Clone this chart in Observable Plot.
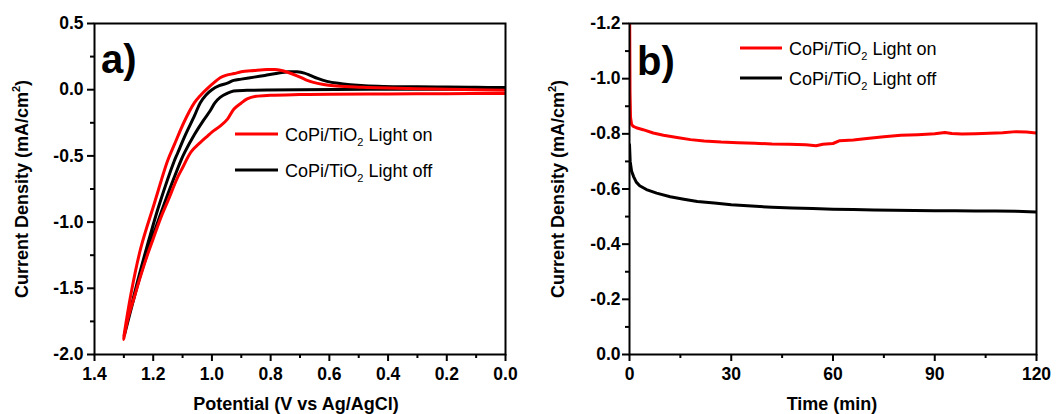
<!DOCTYPE html>
<html><head><meta charset="utf-8">
<script src="https://cdn.jsdelivr.net/npm/d3@7"></script>
<script src="https://cdn.jsdelivr.net/npm/@observablehq/plot@0.6"></script>
<style>
html,body{margin:0;padding:0;background:#fff;}
#chart{display:flex;width:1057px;height:414px;}
#chart svg{display:block;}
</style></head><body><div id="chart"></div>
<script>
// ---------- series ----------
const seriesLabels = ["CoPi/TiO", "CoPi/TiO"];
const seriesSub = ["2", "2"];
const seriesSuffix = [" Light on", " Light off"];
const seriesColors = ["#ff0000", "#000000"];

// ---------- panel a: cyclic voltammetry ----------
const cvOnPotential = [0.0, 0.2, 0.4, 0.6, 0.7, 0.8, 0.85, 0.88, 0.9, 0.925, 0.947, 0.97, 1.0, 1.015, 1.04, 1.071, 1.1, 1.117, 1.15, 1.174, 1.2, 1.219, 1.242, 1.265, 1.285, 1.301,
  1.276, 1.242, 1.197, 1.151, 1.128, 1.094, 1.06, 1.04, 1.015, 0.992, 0.972, 0.95, 0.924, 0.9, 0.856, 0.812, 0.788, 0.767, 0.74, 0.71, 0.68, 0.654, 0.62, 0.585, 0.53, 0.472, 0.4, 0.3, 0.2, 0.1, 0.0];
const cvOnCurrent = [-0.028, -0.03, -0.032, -0.034, -0.037, -0.042, -0.05, -0.07, -0.1, -0.146, -0.222, -0.272, -0.32, -0.35, -0.4, -0.47, -0.59, -0.663, -0.84, -0.966, -1.125, -1.243, -1.4, -1.571, -1.72, -1.886,
  -1.545, -1.193, -0.865, -0.537, -0.415, -0.24, -0.1, -0.045, 0.01, 0.055, 0.09, 0.11, 0.122, 0.135, 0.145, 0.153, 0.152, 0.147, 0.13, 0.105, 0.075, 0.055, 0.04, 0.03, 0.022, 0.017, 0.012, 0.007, 0.003, 0.0, -0.005];
const cvOffPotential = [0.0, 0.4, 0.7, 0.812, 0.88, 0.926, 0.95, 0.972, 0.99, 1.006, 1.03, 1.06, 1.092, 1.106, 1.135, 1.162, 1.2, 1.25, 1.299,
  1.25, 1.2, 1.179, 1.128, 1.117, 1.09, 1.06, 1.04, 1.02, 1.0, 0.975, 0.947, 0.926, 0.9, 0.856, 0.82, 0.776, 0.74, 0.71, 0.685, 0.665, 0.64, 0.608, 0.57, 0.529, 0.48, 0.416, 0.3, 0.2, 0.1, 0.0];
const cvOffCurrent = [0.005, 0.003, 0.0, -0.002, -0.005, -0.01, -0.03, -0.058, -0.1, -0.159, -0.235, -0.34, -0.47, -0.537, -0.7, -0.86, -1.1, -1.45, -1.86,
  -1.42, -1.02, -0.865, -0.537, -0.48, -0.34, -0.2, -0.1, -0.04, 0.0, 0.03, 0.05, 0.07, 0.08, 0.095, 0.108, 0.125, 0.135, 0.135, 0.125, 0.108, 0.085, 0.063, 0.048, 0.038, 0.03, 0.025, 0.022, 0.02, 0.018, 0.017];

// ---------- panel b: chronoamperometry ----------
const caOnTime = [0, 0.15, 0.3, 0.6, 1, 2, 4, 7, 10, 14, 18, 22, 27, 32, 37, 42, 47, 52, 55, 57, 60, 62, 66, 70, 75, 80, 85, 90, 93, 95, 98, 102, 106, 110, 114, 117, 120];
const caOnCurrent = [-1.35, -0.95, -0.86, -0.835, -0.828, -0.822, -0.815, -0.803, -0.795, -0.787, -0.779, -0.774, -0.77, -0.768, -0.766, -0.763, -0.762, -0.76, -0.757, -0.762, -0.765, -0.775, -0.778, -0.783, -0.789, -0.795, -0.797, -0.8, -0.805, -0.801, -0.799, -0.8, -0.802, -0.804, -0.808, -0.807, -0.803];
const caOffTime = [0, 0.2, 0.6, 1.2, 2, 3, 5, 8, 12, 16, 20, 25, 30, 36, 42, 48, 54, 60, 66, 72, 78, 84, 90, 96, 102, 108, 114, 120];
const caOffCurrent = [-0.76, -0.7, -0.665, -0.645, -0.625, -0.612, -0.598, -0.585, -0.572, -0.563, -0.555, -0.549, -0.543, -0.538, -0.534, -0.531, -0.529, -0.527, -0.526, -0.524, -0.523, -0.522, -0.521, -0.521, -0.52, -0.52, -0.519, -0.517];

// ---------- ticks & labels ----------
const aXTicks = [1.4, 1.2, 1.0, 0.8, 0.6, 0.4, 0.2, 0.0];
const aXMinor = [1.3, 1.1, 0.9, 0.7, 0.5, 0.3, 0.1];
const aYTicks = [0.5, 0.0, -0.5, -1.0, -1.5, -2.0];
const aYMinor = [0.25, -0.25, -0.75, -1.25, -1.75];
const bXTicks = [0, 30, 60, 90, 120];
const bXMinor = [15, 45, 75, 105];
const bYTicks = [-1.2, -1.0, -0.8, -0.6, -0.4, -0.2, 0.0];
const bYMinor = [-1.1, -0.9, -0.7, -0.5, -0.3, -0.1];
const aXLabel = "Potential (V vs Ag/AgCl)";
const bXLabel = "Time (min)";
const yLabelMain = "Current Density (mA/cm";
const yLabelSup = "2";
const panelLabels = ["a)", "b)"];

const FONT = "'Liberation Sans', Arial, Helvetica, sans-serif";
const zip = (xs, ys) => xs.map((x, i) => ({x, y: ys[i]}));
const fmt1 = d => (Math.abs(d) < 1e-9 ? 0 : d).toFixed(1);

function panel(o) {
  return Plot.plot({
    width: o.width, height: 414,
    marginTop: 23, marginBottom: 60, marginLeft: o.marginLeft, marginRight: o.marginRight,
    style: {fontFamily: FONT, fontSize: "17px", fontWeight: "bold", background: "white", color: "black"},
    x: {domain: o.xDomain, label: null},
    y: {domain: o.yDomain, label: null},
    marks: [
      Plot.axisX({ticks: o.xMinor, tickSize: 4, tickFormat: () => "", strokeWidth: 2, label: null}),
      Plot.axisX({ticks: o.xTicks, tickSize: 7, tickPadding: 6, tickFormat: o.xFmt, fontSize: 17.5, fontWeight: "bold", strokeWidth: 2, label: null}),
      Plot.axisY({ticks: o.yMinor, tickSize: 4, tickFormat: () => "", strokeWidth: 2, label: null}),
      Plot.axisY({ticks: o.yTicks, tickSize: 7, tickPadding: o.yPad, tickFormat: fmt1, fontSize: 17.5, fontWeight: "bold", strokeWidth: 2, label: null}),
      Plot.line(o.off, {x: "x", y: "y", stroke: seriesColors[1], strokeWidth: 3, curve: o.curve, clip: true}),
      Plot.line(o.on, {x: "x", y: "y", stroke: seriesColors[0], strokeWidth: 3, curve: o.curve, clip: true}),
      Plot.frame({stroke: "black", strokeWidth: 2})
    ]
  });
}

function decorate(svg, d) {
  const s = d3.select(svg);
  // panel label
  s.append("text").attr("x", d.labelX).attr("y", d.labelY).attr("text-anchor", "start")
    .attr("font-family", FONT).attr("font-weight", "bold").attr("font-size", 40)
    .attr("fill", "black").text(d.label);
  // x title
  s.append("text").attr("x", d.xTitleX).attr("y", 410).attr("text-anchor", "middle")
    .attr("font-family", FONT).attr("font-weight", "bold").attr("font-size", 18)
    .attr("fill", "black").text(d.xTitle);
  // y title
  const yt = s.append("text").attr("transform", `translate(${d.yTitleX},189) rotate(-90)`)
    .attr("text-anchor", "middle").attr("font-family", FONT).attr("font-weight", "bold")
    .attr("font-size", 18).attr("fill", "black");
  yt.append("tspan").text(yLabelMain);
  yt.append("tspan").attr("font-size", 11).attr("dy", -8).text(yLabelSup);
  yt.append("tspan").attr("dy", 8).text(")");
  // legend
  [0, 1].forEach(i => {
    const ly = d.legendY[i];
    s.append("line").attr("x1", d.legendX0).attr("x2", d.legendX1).attr("y1", ly).attr("y2", ly)
      .attr("stroke", seriesColors[i]).attr("stroke-width", 3);
    const t = s.append("text").attr("x", d.legendX1 + 7).attr("y", ly + 7).attr("text-anchor", "start")
      .attr("font-family", FONT).attr("font-weight", "normal").attr("font-size", 18).attr("fill", "black");
    t.append("tspan").text(seriesLabels[i]);
    t.append("tspan").attr("font-size", 11).attr("dy", 5).text(seriesSub[i]);
    t.append("tspan").attr("dy", -5).text(seriesSuffix[i]);
  });
}

const chart = document.getElementById("chart");

const svgA = panel({
  width: 528, marginLeft: 94, marginRight: 23,
  xDomain: [1.4, 0], yDomain: [-2.0, 0.5],
  xTicks: aXTicks, xMinor: aXMinor, yTicks: aYTicks, yMinor: aYMinor, yPad: 4,
  xFmt: fmt1, curve: "catmull-rom",
  on: zip(cvOnPotential, cvOnCurrent), off: zip(cvOffPotential, cvOffCurrent)
});
chart.appendChild(svgA);
decorate(svgA, {label: panelLabels[0], labelX: 101, labelY: 73, xTitle: aXLabel, xTitleX: 296, yTitleX: 28,
  legendX0: 235, legendX1: 278, legendY: [134, 170]});

const svgB = panel({
  width: 529, marginLeft: 101, marginRight: 21,
  xDomain: [0, 120], yDomain: [0, -1.2],
  xTicks: bXTicks, xMinor: bXMinor, yTicks: bYTicks, yMinor: bYMinor, yPad: 2,
  xFmt: d => String(d), curve: "linear",
  on: zip(caOnTime, caOnCurrent), off: zip(caOffTime, caOffCurrent)
});
chart.appendChild(svgB);
decorate(svgB, {label: panelLabels[1], labelX: 109, labelY: 75, xTitle: bXLabel, xTitleX: 304, yTitleX: 36,
  legendX0: 212, legendX1: 254, legendY: [48, 78]});
</script>
</body></html>
